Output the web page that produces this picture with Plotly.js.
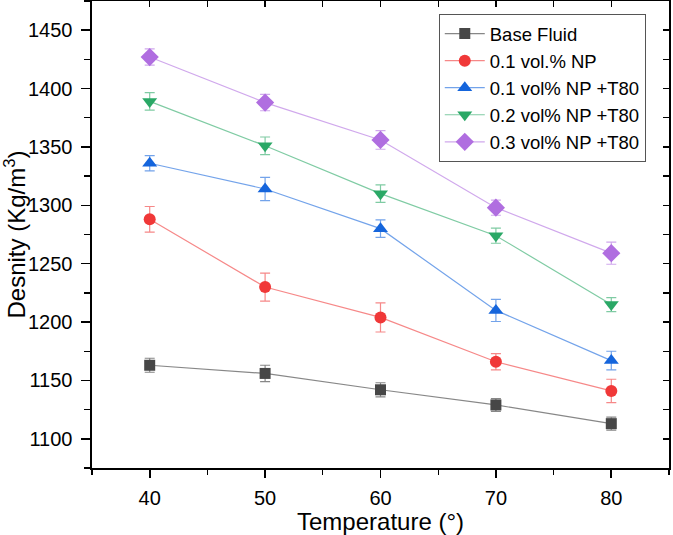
<!DOCTYPE html>
<html>
<head>
<meta charset="utf-8">
<script src="https://cdn.plot.ly/plotly-3.0.1.min.js"></script>
<style>
  html, body { margin: 0; padding: 0; background: #fff; }
  #chart { width: 673px; height: 535px; }
</style>
</head>
<body>
<div id="chart"></div>
<script>
// Temperature (°) and density (Kg/m³) readings with their error margins
const temperature = [40, 50, 60, 70, 80];

const baseFluid = [1163, 1156, 1142, 1129, 1113];
const baseFluidErr = [6, 7, 6, 5.5, 5.5];

const np01 = [1288, 1230, 1204, 1166, 1141];
const np01Err = [11, 12, 12.5, 7, 10];

const np01T80 = [1336, 1314, 1280, 1210, 1167];
const np01T80Err = [6.5, 10, 7.5, 9.5, 8];

const np02T80 = [1389, 1351, 1310, 1274, 1215];
const np02T80Err = [7.5, 7.5, 7.5, 6.5, 6];

const np03T80 = [1427, 1388, 1356, 1298, 1259];
const np03T80Err = [7, 7, 8, 6.5, 9.5];

const seriesNames = ['Base Fluid', '0.1 vol.% NP', '0.1 vol% NP +T80', '0.2 vol% NP +T80', '0.3 vol% NP +T80'];

const FONT = 'Liberation Sans, Arial, sans-serif';

function series(name, y, err, color, lineColor, symbol, size) {
  return {
    type: 'scatter',
    mode: 'lines+markers',
    name: name,
    x: temperature,
    y: y,
    line: { color: lineColor, width: 1.2 },
    marker: { symbol: symbol, size: size, color: color, line: { width: 0 } },
    error_y: { type: 'data', array: err, visible: true, color: lineColor, thickness: 1.2, width: 5 }
  };
}

const traces = [
  series(seriesNames[0], baseFluid, baseFluidErr, '#474747', 'rgba(71,71,71,0.65)', 'square', 11),
  series(seriesNames[1], np01, np01Err, '#f03838', 'rgba(240,56,56,0.6)', 'circle', 12),
  series(seriesNames[2], np01T80, np01T80Err, '#1565dc', 'rgba(21,101,220,0.6)', 'triangle-up', 13),
  series(seriesNames[3], np02T80, np02T80Err, '#2aa866', 'rgba(42,168,102,0.6)', 'triangle-down', 13),
  series(seriesNames[4], np03T80, np03T80Err, '#b06ee0', 'rgba(176,110,224,0.6)', 'diamond', 14)
];

// Invisible helper trace so the top and right frame axes get drawn
traces.push({ x: [40], y: [1200], xaxis: 'x2', yaxis: 'y2', mode: 'markers',
  marker: { opacity: 0 }, showlegend: false, hoverinfo: 'skip' });

const xRange = [35, 85];
const yRange = [1075, 1475];

const layout = {
  width: 673,
  height: 535,
  margin: { l: 92, r: 4, t: 1, b: 67 },
  paper_bgcolor: '#ffffff',
  plot_bgcolor: '#ffffff',
  font: { family: FONT, color: '#000', size: 20 },
  showlegend: true,
  legend: {
    x: 0.601, y: 0.972, xanchor: 'left', yanchor: 'top',
    bgcolor: '#ffffff', bordercolor: '#555', borderwidth: 1,
    font: { family: FONT, size: 18.5, color: '#000' },
    tracegroupgap: 0, itemwidth: 40
  },
  xaxis: {
    range: xRange, dtick: 10, tick0: 40,
    showgrid: false, zeroline: false,
    showline: true, linecolor: '#000', linewidth: 1.6,
    ticks: 'outside', ticklen: 8, tickwidth: 1.6, tickcolor: '#000',
    minor: { dtick: 5, tick0: 35, ticks: 'outside', ticklen: 5, tickwidth: 1.4, tickcolor: '#000', showgrid: false },
    tickfont: { family: FONT, size: 20 },
    ticklabelstandoff: 3,
    title: { text: 'Temperature (°)', font: { family: FONT, size: 24 }, standoff: 4 }
  },
  yaxis: {
    range: yRange, dtick: 50, tick0: 1100,
    showgrid: false, zeroline: false,
    showline: true, linecolor: '#000', linewidth: 1.6,
    ticks: 'outside', ticklen: 9, tickwidth: 1.6, tickcolor: '#000',
    minor: { dtick: 25, tick0: 1075, ticks: 'outside', ticklen: 6, tickwidth: 1.4, tickcolor: '#000', showgrid: false },
    tickfont: { family: FONT, size: 20 },
    ticklabelstandoff: 5,
    title: { text: 'Desnity (Kg/m<sup>3</sup>)', font: { family: FONT, size: 24 }, standoff: 4 }
  },
  xaxis2: {
    overlaying: 'x', side: 'top', anchor: 'y2', range: xRange, dtick: 5, tick0: 35,
    showgrid: false, zeroline: false, showticklabels: false,
    showline: true, linecolor: '#000', linewidth: 1.6,
    ticks: 'inside', ticklen: 6, tickwidth: 1.4, tickcolor: '#000'
  },
  yaxis2: {
    overlaying: 'y', side: 'right', anchor: 'x2', range: yRange, dtick: 25, tick0: 1075,
    showgrid: false, zeroline: false, showticklabels: false,
    showline: true, linecolor: '#000', linewidth: 1.6,
    ticks: 'inside', ticklen: 6, tickwidth: 1.4, tickcolor: '#000'
  }
};

Plotly.newPlot('chart', traces, layout, { displayModeBar: false, staticPlot: true });
</script>
</body>
</html>
